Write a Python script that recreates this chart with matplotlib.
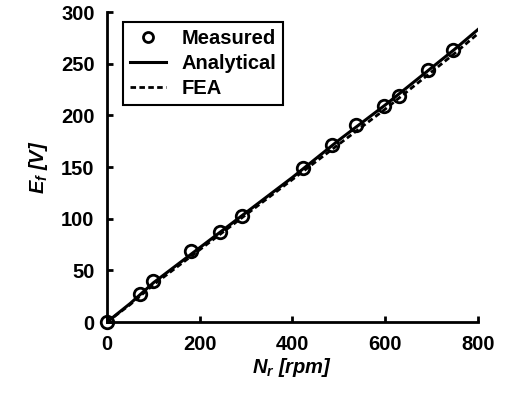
import numpy as np
import matplotlib
matplotlib.use('Agg')
import matplotlib.pyplot as plt

plt.rcParams['font.family'] = 'Liberation Sans'
plt.rcParams['font.weight'] = 'bold'
plt.rcParams['mathtext.fontset'] = 'custom'
plt.rcParams['mathtext.it'] = 'Liberation Sans:italic:bold'
plt.rcParams['mathtext.rm'] = 'Liberation Sans:bold'

# Measured back-EMF
meas_rpm = [0, 70, 100, 182, 243, 292, 422, 486, 537, 597, 629, 693, 746]
meas_emf = [0, 27, 40, 69, 87, 103, 149, 171, 191, 209, 219, 244, 263]

# Analytical and FEA curves
curve_rpm = [0, 50, 100, 150, 200, 250, 300, 350, 400, 450, 500, 550, 600, 650, 700, 750, 800]
ana_emf = [0, 18, 38, 55, 72, 89, 106, 123, 140, 158, 176, 193, 210, 228, 246, 264, 283]
fea_emf = [0, 17, 36, 53, 70, 87, 104, 121, 138, 155, 172, 189, 206, 224, 242, 260, 279]

fig = plt.figure(figsize=(5.1, 4.01), dpi=100)
ax = fig.add_axes([0.21, 0.197, 0.727, 0.773])

ax.plot(meas_rpm, meas_emf, 'o', mfc='none', mec='black', mew=2, ms=9,
        label='Measured', clip_on=False, zorder=3)
ax.plot(curve_rpm, ana_emf, '-', color='black', lw=2.2, label='Analytical')
ax.plot(curve_rpm, fea_emf, '--', color='black', lw=2, dashes=(2, 1.2), label='FEA')

ax.set_xlim(0, 800)
ax.set_ylim(0, 300)
ax.set_xticks([0, 200, 400, 600, 800])
ax.set_yticks([0, 50, 100, 150, 200, 250, 300])
ax.spines['top'].set_visible(False)
ax.spines['right'].set_visible(False)
ax.spines['left'].set_linewidth(2)
ax.spines['bottom'].set_linewidth(2)
ax.tick_params(direction='in', length=4, width=2, labelsize=14.5, pad=9)

ax.set_xlabel(r'$N_r$ [rpm]', fontsize=14.5, fontweight='bold', style='italic', labelpad=2)
ax.set_ylabel(r'$E_f$ [V]', fontsize=14.5, fontweight='bold', style='italic', labelpad=8)

leg = ax.legend(loc='upper left', bbox_to_anchor=(0.015, 1.0), fontsize=14.5,
                fancybox=False, edgecolor='black', framealpha=1, markerscale=0.8,
                handlelength=1.8, handletextpad=0.75, borderpad=0.35, labelspacing=0.3)
leg.get_frame().set_linewidth(1.5)

fig.savefig('out.png', dpi=100)
